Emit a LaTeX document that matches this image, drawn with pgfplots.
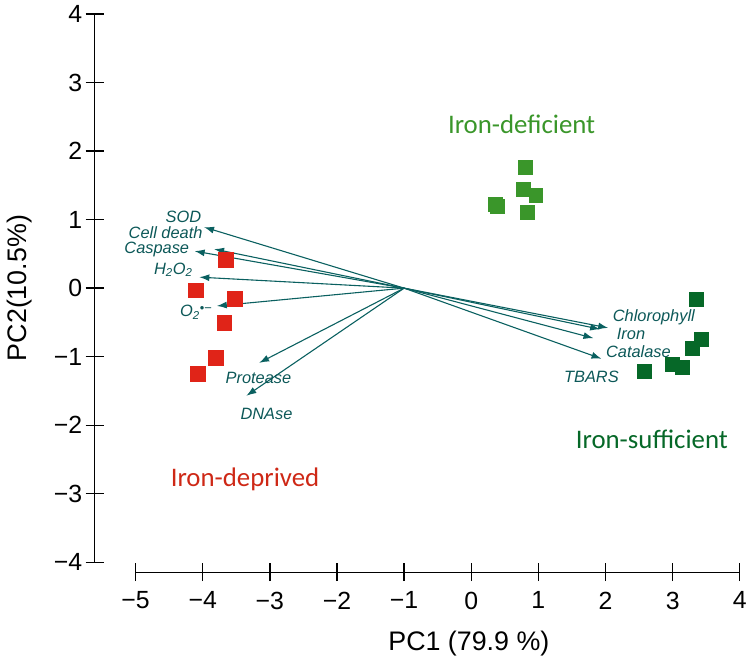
\documentclass[border=0pt]{standalone}
\usepackage{fontspec}
\setmainfont{Liberation Sans}
\newfontfamily\calibri{Carlito}
\usepackage{pgfplots}
\pgfplotsset{compat=1.18}
\usetikzlibrary{arrows.meta}
\definecolor{redpt}{RGB}{224,36,24}
\definecolor{redtx}{RGB}{206,40,22}
\definecolor{ltgreen}{RGB}{58,150,42}
\definecolor{dkgreen}{RGB}{6,104,40}
\definecolor{arrowc}{RGB}{10,96,96}
\definecolor{labc}{RGB}{12,88,88}
\tikzset{
 lab/.style={font=\fontsize{16.5}{16.5}\selectfont\itshape, text=labc, inner sep=0pt},
 grp/.style={font=\fontsize{27}{27}\selectfont\calibri, inner sep=0pt},
 ld/.style={arrowc, line width=1.1bp, -{Latex[length=10bp,width=7bp]}},
}
\begin{document}
\begin{tikzpicture}
\begin{axis}[
 scale only axis,
 width=647bp, height=560bp,
 xmin=-5.609, xmax=4, ymin=-4.145, ymax=4,
 axis lines*=left,
 axis line style={draw=none},
 xtick={-5,-4,-3,-2,-1,0,1,2,3,4},
 ytick={-4,-3,-2,-1,0,1,2,3,4},
 xticklabels={−5,−4,−3,−2,−1,0,1,2,3,4},
 yticklabels={−4,−3,−2,−1,0,1,2,3,4},
 tick align=center, major tick length=18bp,
 tick style={black, line width=1.3bp},
 ticklabel style={font=\fontsize{25}{25}\selectfont},
 xticklabel style={yshift=-7bp},
 xlabel={PC1 (79.9 \%)}, ylabel={PC2(10.5\%)},
 label style={font=\fontsize{27}{27}\selectfont},
 xlabel style={at={(axis description cs:0.58,-0.127)}, anchor=center},
 ylabel style={at={(axis description cs:-0.116,0.509)}, anchor=center},
 clip=false,
]
% axis lines (detached)
\draw[black, line width=1.3bp] (axis cs:-5,-4.145) -- (axis cs:4,-4.145);
\draw[black, line width=1.3bp] (axis cs:-5.609,-4) -- (axis cs:-5.609,4);

% Iron-deprived
\addplot[only marks, mark=square*, mark size=7.5bp, mark options={draw=redpt, fill=redpt}] coordinates {
(-3.66,0.41) (-4.11,-0.03) (-3.53,-0.16) (-3.68,-0.51) (-3.81,-1.02) (-4.08,-1.25)};
% Iron-deficient
\addplot[only marks, mark=square*, mark size=7bp, mark options={draw=ltgreen, fill=ltgreen}] coordinates {
(0.35,1.22) (0.38,1.19) (0.81,1.77) (0.78,1.44) (0.96,1.35) (0.84,1.11)};
% Iron-sufficient
\addplot[only marks, mark=square*, mark size=7bp, mark options={draw=dkgreen, fill=dkgreen}] coordinates {
(3.35,-0.16) (3.42,-0.74) (3.29,-0.87) (2.99,-1.11) (3.14,-1.15) (2.57,-1.21)};

% loadings
\addplot[ld] coordinates {(-1,0) (-3.98,0.89)};
\addplot[ld] coordinates {(-1,0) (-3.83,0.57)};
\addplot[ld] coordinates {(-1,0) (-4.12,0.54)};
\addplot[ld] coordinates {(-1,0) (-4.05,0.16)};
\addplot[ld] coordinates {(-1,0) (-3.79,-0.26)};
\addplot[ld] coordinates {(-1,0) (-3.16,-1.09)};
\addplot[ld] coordinates {(-1,0) (-3.35,-1.57)};
\addplot[ld] coordinates {(-1,0) (2.04,-0.58)};
\addplot[ld] coordinates {(-1,0) (1.92,-0.60)};
\addplot[ld] coordinates {(-1,0) (1.82,-0.73)};
\addplot[ld] coordinates {(-1,0) (1.94,-1.03)};

\node[lab, anchor=east] at (axis cs:-4.02,1.04) {SOD};
\node[lab, anchor=east] at (axis cs:-4.00,0.81) {Cell death};
\node[lab, anchor=east] at (axis cs:-4.20,0.56) {Caspase};
\node[lab, anchor=east] at (axis cs:-4.15,0.27) {H\textsubscript{2}O\textsubscript{2}};
\node[lab, anchor=east] at (axis cs:-3.86,-0.35) {O\textsubscript{2}\raisebox{0.5ex}{\fontsize{13}{13}\selectfont\upshape •−}};
\node[lab] at (axis cs:-3.17,-1.31) {Protease};
\node[lab] at (axis cs:-3.05,-1.83) {DNAse};
\node[lab] at (axis cs:2.72,-0.42) {Chlorophyll};
\node[lab] at (axis cs:2.38,-0.67) {Iron};
\node[lab] at (axis cs:2.49,-0.92) {Catalase};
\node[lab] at (axis cs:1.79,-1.29) {TBARS};

\node[grp, text=ltgreen] at (axis cs:0.75,2.39) {Iron-deficient};
\node[grp, text=dkgreen] at (axis cs:2.69,-2.20) {Iron-sufficient};
\node[grp, text=redtx] at (axis cs:-3.37,-2.79) {Iron-deprived};
\end{axis}
\path ([shift={(-95bp,-96bp)}]current axis.south west) rectangle ([shift={(8bp,14bp)}]current axis.north east);
\end{tikzpicture}
\end{document}
